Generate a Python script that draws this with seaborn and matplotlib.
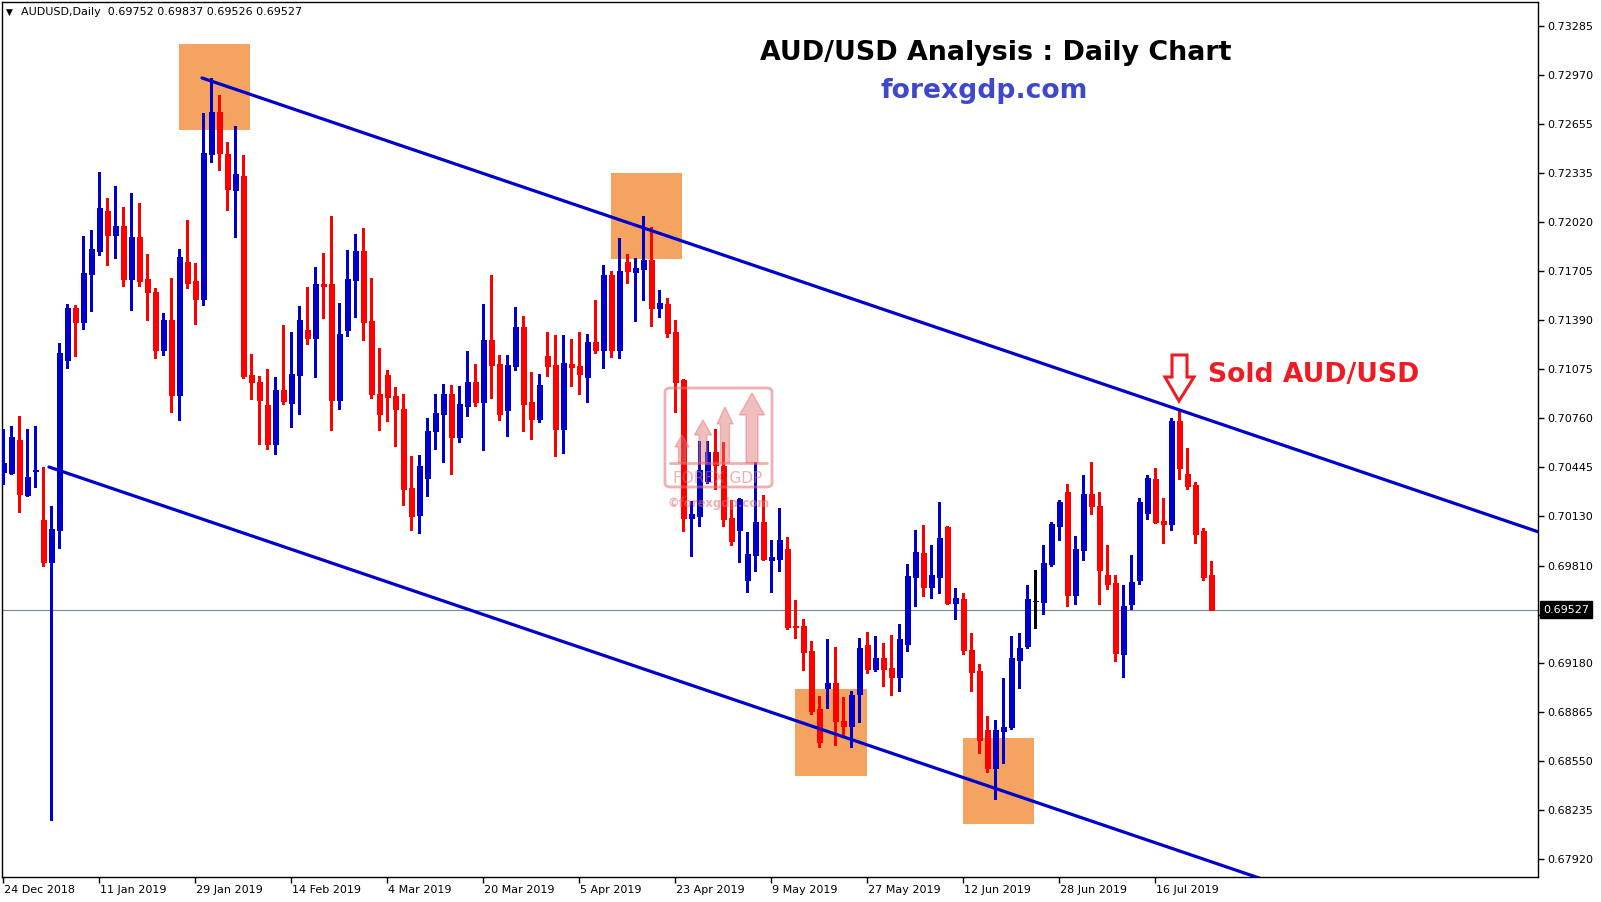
import numpy as np
import pandas as pd
import matplotlib
matplotlib.use("Agg")
import matplotlib.pyplot as plt
import matplotlib.transforms as mtransforms
from matplotlib.patches import Rectangle, Polygon, FancyBboxPatch
from matplotlib.lines import Line2D
import seaborn as sns

# ---------------- data ----------------
opens = [0.70413, 0.70406, 0.70619, 0.70265, 0.70419, 0.70104, 0.69833, 0.70039, 0.71134, 0.71469,
         0.71379, 0.71688, 0.71836, 0.72094, 0.71939, 0.71997, 0.71656, 0.71926, 0.71656, 0.71572,
         0.71198, 0.71392, 0.70909, 0.71765, 0.71643, 0.71527, 0.72461, 0.72731, 0.72461, 0.72229,
         0.72319, 0.71037, 0.70992, 0.70844, 0.70593, 0.70941, 0.70857, 0.71037, 0.71327, 0.71276,
         0.71623, 0.71623, 0.70876, 0.71327, 0.71649, 0.71836, 0.71385, 0.70915, 0.71037, 0.70902,
         0.70818, 0.70310, 0.70136, 0.70374, 0.70677, 0.70786, 0.70915, 0.70638, 0.70838, 0.70992,
         0.70863, 0.71263, 0.71108, 0.70812, 0.71095, 0.71346, 0.70863, 0.70754, 0.71160, 0.71102,
         0.70690, 0.71108, 0.71095, 0.71025, 0.71250, 0.71198, 0.71681, 0.71198, 0.71765, 0.71701,
         0.71720, 0.71778, 0.71469, 0.71495, 0.71314, 0.71005, 0.70117, 0.70129, 0.70355, 0.70542,
         0.70451, 0.70117, 0.70039, 0.69717, 0.69878, 0.70091, 0.69846, 0.69852, 0.69917, 0.69421,
         0.69421, 0.69260, 0.68886, 0.69022, 0.69054, 0.68809, 0.68777, 0.68983, 0.69299, 0.69144,
         0.69215, 0.69151, 0.69093, 0.69305, 0.69737, 0.69891, 0.69672, 0.69737, 0.70058, 0.69569,
         0.69595, 0.69267, 0.69131, 0.68751, 0.68507, 0.68745, 0.68771, 0.69202, 0.69292, 0.69582,
         0.69576, 0.69820, 0.70065, 0.70284, 0.69621, 0.69910, 0.70271, 0.70194, 0.69749, 0.69698,
         0.69241, 0.69563, 0.69717, 0.70149, 0.70368, 0.70097, 0.70078, 0.70741, 0.70400, 0.70329,
         0.70033, 0.69752]
highs = [0.70690, 0.70709, 0.70773, 0.70690, 0.70709, 0.70445, 0.70194, 0.71244, 0.71495, 0.71488,
         0.71933, 0.71971, 0.72345, 0.72177, 0.72255, 0.72119, 0.72210, 0.72145, 0.71817, 0.71598,
         0.71437, 0.71662, 0.71849, 0.72036, 0.71759, 0.72725, 0.72950, 0.72841, 0.72538, 0.72641,
         0.72454, 0.71173, 0.71031, 0.71076, 0.71025, 0.71359, 0.71314, 0.71482, 0.71604, 0.71733,
         0.71823, 0.72061, 0.71501, 0.71842, 0.71945, 0.71984, 0.71662, 0.71211, 0.71070, 0.70960,
         0.70915, 0.70516, 0.70522, 0.70761, 0.70915, 0.70980, 0.70973, 0.70967, 0.71192, 0.71108,
         0.71495, 0.71681, 0.71166, 0.71166, 0.71475, 0.71417, 0.71057, 0.71044, 0.71314, 0.71295,
         0.71295, 0.71269, 0.71314, 0.71301, 0.71520, 0.71746, 0.71707, 0.71920, 0.71817, 0.71791,
         0.72061, 0.71990, 0.71585, 0.71533, 0.71392, 0.71012, 0.70226, 0.70612, 0.70612, 0.70690,
         0.70606, 0.70232, 0.70245, 0.70026, 0.70477, 0.70265, 0.69975, 0.70181, 0.69994, 0.69588,
         0.69466, 0.69324, 0.68970, 0.69337, 0.69286, 0.68964, 0.69002, 0.69344, 0.69382, 0.69357,
         0.69312, 0.69363, 0.69434, 0.69820, 0.70039, 0.70072, 0.69943, 0.70220, 0.70065, 0.69665,
         0.69633, 0.69376, 0.69176, 0.68841, 0.68816, 0.69086, 0.69357, 0.69376, 0.69685, 0.69782,
         0.69943, 0.70091, 0.70232, 0.70335, 0.70001, 0.70393, 0.70477, 0.70284, 0.69943, 0.69749,
         0.69685, 0.69878, 0.70245, 0.70393, 0.70438, 0.70245, 0.70761, 0.70812, 0.70567, 0.70348,
         0.70052, 0.69837]
lows = [0.70335, 0.70400, 0.70155, 0.70258, 0.70316, 0.69807, 0.68172, 0.69923, 0.71083, 0.71160,
        0.71334, 0.71450, 0.71810, 0.71746, 0.71791, 0.71611, 0.71456, 0.71611, 0.71392, 0.71147,
        0.71166, 0.70799, 0.70748, 0.71598, 0.71366, 0.71488, 0.72409, 0.72358, 0.72100, 0.71926,
        0.71018, 0.70883, 0.70593, 0.70561, 0.70529, 0.70850, 0.70703, 0.70786, 0.71237, 0.71025,
        0.71405, 0.70683, 0.70818, 0.71289, 0.71411, 0.71263, 0.70889, 0.70683, 0.70741, 0.70580,
        0.70200, 0.70039, 0.70020, 0.70258, 0.70561, 0.70477, 0.70400, 0.70606, 0.70773, 0.70838,
        0.70555, 0.70889, 0.70748, 0.70645, 0.71070, 0.70677, 0.70625, 0.70735, 0.71031, 0.70516,
        0.70535, 0.70967, 0.70915, 0.70863, 0.71179, 0.71083, 0.71153, 0.71147, 0.71630, 0.71385,
        0.71520, 0.71353, 0.71411, 0.71282, 0.70799, 0.70033, 0.69872, 0.70065, 0.70342, 0.70303,
        0.70065, 0.69943, 0.69833, 0.69640, 0.69775, 0.69846, 0.69640, 0.69775, 0.69402, 0.69344,
        0.69138, 0.68854, 0.68642, 0.68893, 0.68655, 0.68706, 0.68642, 0.68803, 0.69118, 0.69131,
        0.69035, 0.68977, 0.69002, 0.69260, 0.69550, 0.69614, 0.69601, 0.69633, 0.69563, 0.69466,
        0.69241, 0.69002, 0.68603, 0.68481, 0.68307, 0.68539, 0.68758, 0.69022, 0.69279, 0.69408,
        0.69498, 0.69807, 0.69975, 0.69550, 0.69563, 0.69846, 0.70142, 0.69563, 0.69659, 0.69196,
        0.69093, 0.69530, 0.69691, 0.70110, 0.70084, 0.69956, 0.70039, 0.70368, 0.70303, 0.69956,
        0.69717, 0.69526]
closes = [0.70471, 0.70638, 0.70271, 0.70381, 0.70426, 0.69833, 0.70046, 0.71179, 0.71469, 0.71379,
          0.71694, 0.71849, 0.72113, 0.71939, 0.71997, 0.71656, 0.71926, 0.71643, 0.71572, 0.71198,
          0.71392, 0.70909, 0.71797, 0.71630, 0.71527, 0.72467, 0.72731, 0.72467, 0.72235, 0.72332,
          0.71031, 0.70992, 0.70876, 0.70593, 0.70941, 0.70870, 0.71044, 0.71392, 0.71276, 0.71623,
          0.71611, 0.70876, 0.71301, 0.71656, 0.71836, 0.71379, 0.70915, 0.70786, 0.70896, 0.70818,
          0.70303, 0.70129, 0.70451, 0.70677, 0.70793, 0.70915, 0.70638, 0.70850, 0.70992, 0.70863,
          0.71263, 0.71102, 0.70786, 0.71102, 0.71346, 0.70850, 0.70754, 0.70973, 0.71095, 0.70690,
          0.71115, 0.71089, 0.71044, 0.71250, 0.71198, 0.71681, 0.71198, 0.71707, 0.71707, 0.71726,
          0.71778, 0.71469, 0.71501, 0.71308, 0.70992, 0.70117, 0.70142, 0.70426, 0.70542, 0.70458,
          0.70110, 0.69968, 0.70239, 0.69885, 0.70091, 0.69852, 0.69865, 0.69975, 0.69415, 0.69415,
          0.69254, 0.68874, 0.68674, 0.69054, 0.68809, 0.68777, 0.68977, 0.69279, 0.69144, 0.69215,
          0.69144, 0.69093, 0.69337, 0.69743, 0.69898, 0.69672, 0.69749, 0.69988, 0.69569, 0.69601,
          0.69267, 0.69125, 0.68687, 0.68507, 0.68751, 0.68771, 0.69215, 0.69279, 0.69595, 0.69582,
          0.69827, 0.70078, 0.70220, 0.69621, 0.69917, 0.70271, 0.70194, 0.69782, 0.69691, 0.69247,
          0.69550, 0.69704, 0.70220, 0.70374, 0.70091, 0.70078, 0.70741, 0.70438, 0.70323, 0.70014,
          0.69737, 0.69527]

date_labels = ["24 Dec 2018", "11 Jan 2019", "29 Jan 2019", "14 Feb 2019", "4 Mar 2019",
               "20 Mar 2019", "5 Apr 2019", "23 Apr 2019", "9 May 2019", "27 May 2019",
               "12 Jun 2019", "28 Jun 2019", "16 Jul 2019"]
bars_per_label = 12

price_ticks = [0.73285, 0.72970, 0.72655, 0.72335, 0.72020, 0.71705, 0.71390, 0.71075, 0.70760,
               0.70445, 0.70130, 0.69810, 0.69495, 0.69180, 0.68865, 0.68550, 0.68235, 0.67920]

upper_channel_bar = [24.85, 191.85]
upper_channel_price = [0.72950, 0.70028]
lower_channel_bar = [5.72, 200.0]
lower_channel_price = [0.70445, 0.67046]

zone_bars = [(21.98, 30.85), (75.98, 84.85), (98.98, 107.97), (119.98, 128.85)]
zone_prices = [(0.72615, 0.73169), (0.71784, 0.72338), (0.68455, 0.69015), (0.68146, 0.68700)]

last_price = 0.69527
header = "AUDUSD,Daily  0.69752 0.69837 0.69526 0.69527"

# ---------------- style ----------------
BLUE = "#0000CD"
RED = "#FF0000"
ZONE = "#F4A460"
W, H = 1601, 902

sns.set_theme(style="white")
plt.rcParams["font.family"] = ["DejaVu Sans"]

fig = plt.figure(figsize=(W / 100, H / 100), dpi=100, facecolor="white")
ax = fig.add_axes([2 / W, 1 - 877 / H, 1536 / W, 875 / H])
ax.set_facecolor("white")


def fxy(px, py):
    return (px / W, 1 - py / H)


df = pd.DataFrame({"bar": np.arange(len(opens)), "open": opens, "high": highs,
                   "low": lows, "close": closes})
colors = np.where(df["close"] > df["open"], BLUE,
                  np.where(df["close"] < df["open"], RED, "black"))

# zones
for (b0, b1), (p0, p1) in zip(zone_bars, zone_prices):
    ax.add_patch(Rectangle((b0, p0), b1 - b0, p1 - p0, facecolor=ZONE, edgecolor="none", zorder=1))

# current price line
ax.axhline(last_price, color="#778899", lw=0.8, zorder=2)

# candles
ax.vlines(df["bar"], df["low"], df["high"], colors=colors, lw=1.0, zorder=3, antialiased=False)
ax.bar(df["bar"], (df["close"] - df["open"]).abs(),
       bottom=df[["open", "close"]].min(axis=1), width=0.62,
       color=colors, edgecolor=colors, lw=0.6, zorder=4, antialiased=False)

# channel lines
sns.lineplot(x=upper_channel_bar, y=upper_channel_price, ax=ax, color=BLUE, lw=2.3, zorder=5)
sns.lineplot(x=lower_channel_bar, y=lower_channel_price, ax=ax, color=BLUE, lw=2.3, zorder=5)

ax.set_xlim(-0.15, 191.85)
ax.set_ylim(0.67805, 0.73439)

# axes / ticks
for s in ax.spines.values():
    s.set_color("black")
    s.set_linewidth(1.0)
    s.set_visible(True)

ax.yaxis.tick_right()
ax.set_yticks(price_ticks)
# the tick label under the current-price box is hidden by that box in the reference
ax.set_yticklabels(["" if abs(p - last_price) < 0.0005 else f"{p:.5f}" for p in price_ticks])
ax.set_xticks(np.arange(len(date_labels)) * bars_per_label)
ax.set_xticklabels(date_labels, ha="left")
ax.tick_params(axis="y", which="both", right=True, left=False, direction="out", length=4,
               width=1, pad=3, labelsize=8, colors="black")
ax.tick_params(axis="x", which="both", bottom=True, direction="out", length=4,
               width=1, pad=2, labelsize=8, colors="black")
offset = mtransforms.ScaledTranslation(1 / 100, 0, fig.dpi_scale_trans)
for lab in ax.get_xticklabels():
    lab.set_transform(lab.get_transform() + offset)
ax.set_xlabel("")
ax.set_ylabel("")
ax.grid(False)

# price label box on the right axis
blend = mtransforms.blended_transform_factory(ax.transAxes, ax.transData)
ax.text(1.0, last_price, f"{last_price:.5f}",
        transform=blend + mtransforms.ScaledTranslation(5 / 100, 0, fig.dpi_scale_trans),
        ha="left", va="center", color="white", fontsize=8, clip_on=False, zorder=10,
        bbox=dict(boxstyle="square,pad=0.3", fc="black", ec="black"))

# header
fig.text(*fxy(6, 12), "\u25BC", fontsize=6.5, va="center", ha="left", color="black")
fig.text(*fxy(21, 12), header, fontsize=8, va="center", ha="left", color="black")

# titles
fig.text(*fxy(996, 59.5), "AUD/USD Analysis : Daily Chart", ha="center", va="baseline",
         fontsize=19.4, fontweight="bold", color="black")
fig.text(*fxy(984, 98), "forexgdp.com", ha="center", va="baseline",
         fontsize=19.2, fontweight="bold", color="#3F48CC")
fig.text(*fxy(1208, 381.5), "Sold AUD/USD", ha="left", va="baseline",
         fontsize=19.2, fontweight="bold", color="#ED1C24")

# hollow sell arrow
arrow_pts = [(1172, 355), (1187, 355), (1187, 377), (1194, 377), (1179, 401), (1165, 377), (1172, 377)]
fig.add_artist(Polygon([fxy(*p) for p in arrow_pts], closed=True, fill=True, facecolor="white",
                       edgecolor="#ED1C24", lw=2.2, transform=fig.transFigure, zorder=20))

# watermark
WM = "#E07070"
fig.add_artist(FancyBboxPatch(fxy(665, 487), (772 - 665) / W, (487 - 388) / H,
                              boxstyle="round,pad=0,rounding_size=0.004", fill=False,
                              edgecolor=WM, alpha=0.55, lw=2, transform=fig.transFigure, zorder=15))
fig.add_artist(Line2D([fxy(670, 463)[0], fxy(767, 463)[0]], [fxy(670, 463)[1], fxy(767, 463)[1]],
                      color=WM, alpha=0.55, lw=2, transform=fig.transFigure, zorder=15))
for cx, top, hw, sw, hh in [(682, 435, 7, 3.5, 12), (703, 420, 8.5, 4, 15),
                            (725, 407, 8, 4.5, 17), (752, 393, 12.5, 6, 22)]:
    pts = [(cx - sw, 463), (cx - sw, top + hh), (cx - hw, top + hh), (cx, top),
           (cx + hw, top + hh), (cx + sw, top + hh), (cx + sw, 463)]
    fig.add_artist(Polygon([fxy(*p) for p in pts], closed=True, facecolor=WM, edgecolor=WM,
                           alpha=0.45, lw=1, transform=fig.transFigure, zorder=15))
fig.text(*fxy(718, 479), "FOREX GDP", ha="center", va="center", fontsize=11,
         color=WM, alpha=0.55, zorder=15)
fig.text(*fxy(718, 504), "\u00A9forexgdp.com", ha="center", va="center", fontsize=8.4,
         fontweight="bold", color=WM, alpha=0.55, zorder=15)

fig.savefig("out.png", dpi=100, facecolor="white")
